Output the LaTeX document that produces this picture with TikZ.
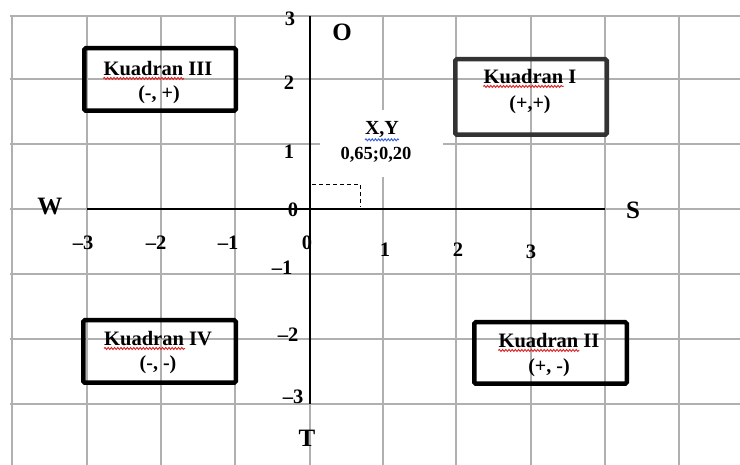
\documentclass[tikz,border=0pt]{standalone}
\usepackage{fontspec}
\setmainfont{Liberation Serif}
\usetikzlibrary{calc,decorations.pathmorphing}
\definecolor{gridgray}{HTML}{B0B0B0}
\definecolor{boxdark}{HTML}{333333}
\definecolor{wavered}{HTML}{E02020}
\definecolor{waveblue}{HTML}{3060E0}
\begin{document}
\begin{tikzpicture}[x=1pt,y=-1pt,
  gridline/.style={draw=gridgray, line width=1.6},
  axisline/.style={draw=black, line width=1.8},
  quadbox/.style={draw=black, line width=4.5, rounded corners=1.5, inner sep=0, fill=none},
  lbl/.style={font=\fontsize{20.5}{22}\selectfont\bfseries, inner sep=0},
  dirlbl/.style={font=\fontsize{25}{27}\selectfont\bfseries, inner sep=0},
  qtitle/.style={font=\fontsize{20.5}{22}\selectfont\bfseries, inner sep=0},
  qsign/.style={font=\fontsize{20}{22}\selectfont\bfseries, inner sep=0},
  wave/.style={decorate, decoration={snake, amplitude=1.0pt, segment length=3.2pt}, line width=0.9},
]
\useasboundingbox (0,0) rectangle (740,465);
\fill[white] (0,0) rectangle (740,465);
% grid
\foreach \x in {12,87,161,235,310,383,456,531,605,679}
  \draw[gridline] (\x,16) -- (\x,465);
\foreach \y in {16,79,144,209,274,339,404}
  \draw[gridline] (10,\y) -- (740,\y);
% axes
\coordinate (xl) at (87,209);
\coordinate (xr) at (605,209);
\coordinate (yt) at (310,16);
\coordinate (yb) at (310,404);
\draw[axisline] (xl) -- (xr);
\draw[axisline] (yt) -- (yb);
% white label area for point
\node[fill=white, inner sep=0, minimum width=123, minimum height=67] (xybox) at (381.5,143.5) {};
\node[lbl, font=\fontsize{20}{22}\selectfont\bfseries] (xyt) at (382,130) {X,Y};
\node[lbl, font=\fontsize{18.5}{20}\selectfont\bfseries] (xyv) at (376,155) {0,65;0,20};
\draw[wave, draw=waveblue] ([yshift=-1.5]xyt.south west) -- ([yshift=-1.5]xyt.south east);
% dashed projection
\coordinate (py) at (312,184);
\coordinate (pp) at (360,184);
\coordinate (px) at (360,207);
\draw[dashed, line width=0.8, dash pattern=on 4pt off 3pt] (py) -- (pp) -- (px);
% y tick labels
\node[lbl] (y3) at (290,19) {3};
\node[lbl] (y2) at (289,83) {2};
\node[lbl] (y1) at (289,152) {1};
\node[lbl] (y0) at (293,210) {0};
\node[lbl] (ym1) at (282,268) {--1};
\node[lbl] (ym2) at (288,335) {--2};
\node[lbl] (ym3) at (293,397) {--3};
% x tick labels
\node[lbl] (xm3) at (83,243) {--3};
\node[lbl] (xm2) at (156,243) {--2};
\node[lbl] (xm1) at (228,243) {--1};
\node[lbl] (x0) at (307,243) {0};
\node[lbl] (x1) at (385,250) {1};
\node[lbl] (x2) at (458,250) {2};
\node[lbl] (x3) at (531,252) {3};
% directions
\node[dirlbl] (dO) at (342,32) {O};
\node[dirlbl] (dW) at (50,207) {W};
\node[dirlbl] (dS) at (633,210) {S};
\node[dirlbl] (dT) at (307,438) {T};
% quadrant boxes
\node[quadbox, minimum width=151.5, minimum height=62.5] (q3) at (160,79.5) {};
\node[quadbox, draw=boxdark, minimum width=151.5, minimum height=75.5] (q1) at (531,97) {};
\node[quadbox, minimum width=152.5, minimum height=62.5] (q4) at (159.5,351.5) {};
\node[quadbox, minimum width=152.5, minimum height=61.5] (q2) at (550.5,353) {};
% quadrant texts
\node[qtitle] (q3t) at (158,69) {Kuadran III};
\node[qsign] (q3s) at (159,95) {(-, +)};
\node[qtitle] (q1t) at (530,77) {Kuadran I};
\node[qsign] (q1s) at (530,105) {(+,+)};
\node[qtitle] (q4t) at (158,339) {Kuadran IV};
\node[qsign] (q4s) at (158,365) {(-, -)};
\node[qtitle] (q2t) at (549,341) {Kuadran II};
\node[qsign] (q2s) at (549,368) {(+, -)};
% spell-check waves
\draw[wave, draw=wavered] ([yshift=-2]q3t.south west) -- ($([yshift=-2]q3t.south west)!0.74!([yshift=-2]q3t.south east)$);
\draw[wave, draw=wavered] ([yshift=-2]q1t.south west) -- ($([yshift=-2]q1t.south west)!0.86!([yshift=-2]q1t.south east)$);
\draw[wave, draw=wavered] ([yshift=-2]q4t.south west) -- ($([yshift=-2]q4t.south west)!0.75!([yshift=-2]q4t.south east)$);
\draw[wave, draw=wavered] ([yshift=-2]q2t.south west) -- ($([yshift=-2]q2t.south west)!0.80!([yshift=-2]q2t.south east)$);
\end{tikzpicture}
\end{document}
